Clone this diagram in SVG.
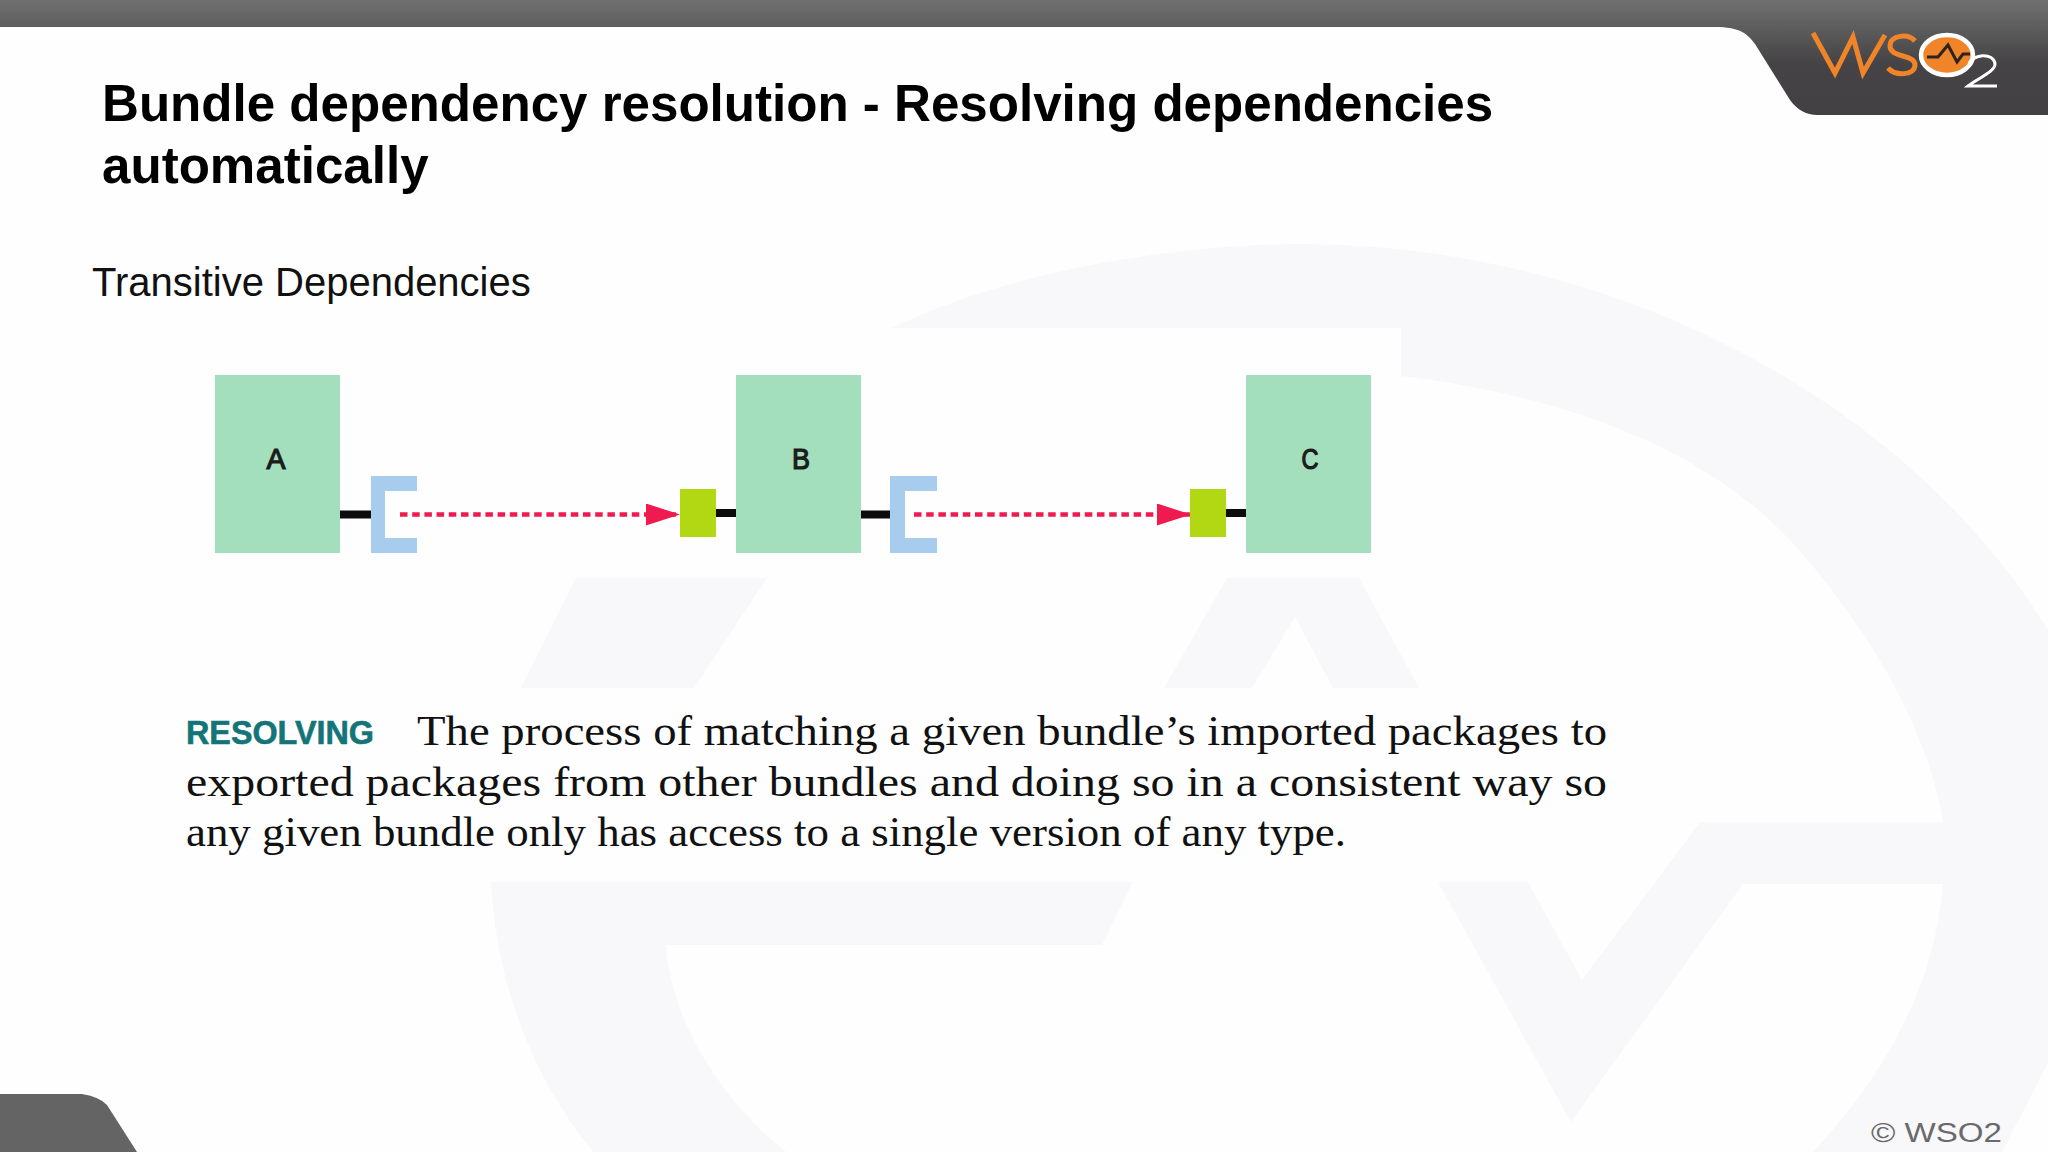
<svg xmlns="http://www.w3.org/2000/svg" width="2048" height="1152" viewBox="0 0 2048 1152">
<defs>
<linearGradient id="bar" gradientUnits="userSpaceOnUse" x1="0" y1="0" x2="0" y2="116"><stop offset="0" stop-color="#707070"/><stop offset="0.25" stop-color="#5c5c5c"/><stop offset="0.55" stop-color="#454345"/><stop offset="1" stop-color="#424042"/></linearGradient>
<marker id="arrow" markerUnits="userSpaceOnUse" markerWidth="34" markerHeight="22" refX="33" refY="11" orient="auto"><path d="M0 0L34 11L0 22Z" fill="#ef1a50"/></marker>
</defs>
<style>
.wm{fill:#f8f7fa}
.box{fill:#a3debd}
.lbl{font-family:"Liberation Sans",Arial,sans-serif;font-size:29px;fill:#1c1c1c;stroke:#1c1c1c;stroke-width:1.200;text-anchor:middle}
.title{font-family:"Liberation Sans",Arial,sans-serif;font-size:51.100px;font-weight:bold;fill:#000}
.body{font-family:"Liberation Serif","Times New Roman",serif;font-size:42px;fill:#111}
.stub{stroke:#0c0c0c;stroke-width:8;fill:none}
.sock{fill:#a8ccee}
.plug{fill:#b2d813}
.dash{stroke:#ef1a50;stroke-width:4.500;stroke-dasharray:7.500 4.700;fill:none;marker-end:url(#arrow)}
</style>
<rect width="2048" height="1152" fill="#fefefe"/>
<g id="watermark">
<path class="wm" d="M892 328C1010 270 1180 244 1300 244C1600 244 1900 390 2048 630V1063L2002 1152H1813C1880 1080 1935 990 1943 884H1743L1571 1122L1438 882H1528L1582 980L1700 822H1943C1930 740 1880 640 1790 540C1700 445 1560 395 1401 376V328Z"/>
<path class="wm" d="M521 688L576 578H767L694 688Z"/>
<path class="wm" d="M1164 688L1227 578H1359L1419 688H1333L1295 617L1252 688Z"/>
<path class="wm" d="M491 882H1133L1102 945H666C670 1010 710 1090 786 1152H593C535 1080 497 990 491 882Z"/>
</g>
<g id="frame">
<path d="M0 0H2048V115H1817C1807 115 1797 110 1790 100L1755 44C1745 30 1735 27 1712 27H0Z" fill="url(#bar)"/>
<path d="M0 1152V1094H82Q100 1097 107 1105L137 1152Z" fill="#646464"/>
</g>
<g id="logo">
<path d="M1813 33L1835 73L1853 37L1863 73L1885 35" fill="none" stroke="#f08428" stroke-width="5"/>
<path d="M1915 41C1908 33 1890 35 1890 46C1890 58 1915 54 1915 65C1915 76 1895 76 1888 68" fill="none" stroke="#f08428" stroke-width="5"/>
<ellipse cx="1947" cy="55" rx="26" ry="20" fill="#f08428" stroke="#fff" stroke-width="4.500"/>
<path d="M1927 57H1938L1948 45L1957 62L1963 54H1970" fill="none" stroke="#2b2320" stroke-width="3"/>
<path d="M1969 64C1972 54 1994 52 1995 64C1995 72 1978 78 1968 86H1997" fill="none" stroke="#fff" stroke-width="3"/>
</g>
<text class="title" x="102" y="121">Bundle dependency resolution - Resolving dependencies</text>
<text class="title" x="102" y="183">automatically</text>
<text x="92" y="296" font-family="'Liberation Sans',Arial,sans-serif" font-size="40" fill="#111">Transitive Dependencies</text>
<g id="connectors">
<path class="stub" d="M340 514.500H371"/><path class="stub" d="M716 513H736"/>
<path class="stub" d="M861 514.500H890"/><path class="stub" d="M1226 513H1246"/>
<path class="dash" d="M400 514.500H679"/><path class="dash" d="M914 514.500H1190"/>
</g>
<g id="node-a"><rect class="box" x="215" y="375" width="125" height="178"/><text class="lbl" x="276" y="469" textLength="19" lengthAdjust="spacingAndGlyphs">A</text></g>
<g id="socket-a"><path class="sock" d="M371 476H417V491H385V538H417V553H371Z"/></g>
<g id="plug-b"><rect class="plug" x="680" y="489" width="36" height="48"/></g>
<g id="node-b"><rect class="box" x="736" y="375" width="125" height="178"/><text class="lbl" x="801" y="469" textLength="18" lengthAdjust="spacingAndGlyphs">B</text></g>
<g id="socket-b"><path class="sock" d="M890 476H937V491H905V538H937V553H890Z"/></g>
<g id="plug-c"><rect class="plug" x="1190" y="489" width="36" height="48"/></g>
<g id="node-c"><rect class="box" x="1246" y="375" width="125" height="178"/><text class="lbl" x="1310" y="469" textLength="17" lengthAdjust="spacingAndGlyphs">C</text></g>
<text x="186" y="744" font-family="'Liberation Sans',Arial,sans-serif" font-size="34" font-weight="bold" fill="#157478" stroke="#157478" stroke-width=".6" textLength="188" lengthAdjust="spacingAndGlyphs">RESOLVING</text>
<text class="body" x="417" y="745" textLength="1190" lengthAdjust="spacingAndGlyphs">The process of matching a given bundle’s imported packages to</text>
<text class="body" x="186" y="796" textLength="1421" lengthAdjust="spacingAndGlyphs">exported packages from other bundles and doing so in a consistent way so</text>
<text class="body" x="186" y="846" textLength="1160" lengthAdjust="spacingAndGlyphs">any given bundle only has access to a single version of any type.</text>
<text x="1871" y="1142" font-family="'Liberation Sans',Arial,sans-serif" font-size="27" fill="#6a6a6a" textLength="131" lengthAdjust="spacingAndGlyphs">© WSO2</text>
</svg>
